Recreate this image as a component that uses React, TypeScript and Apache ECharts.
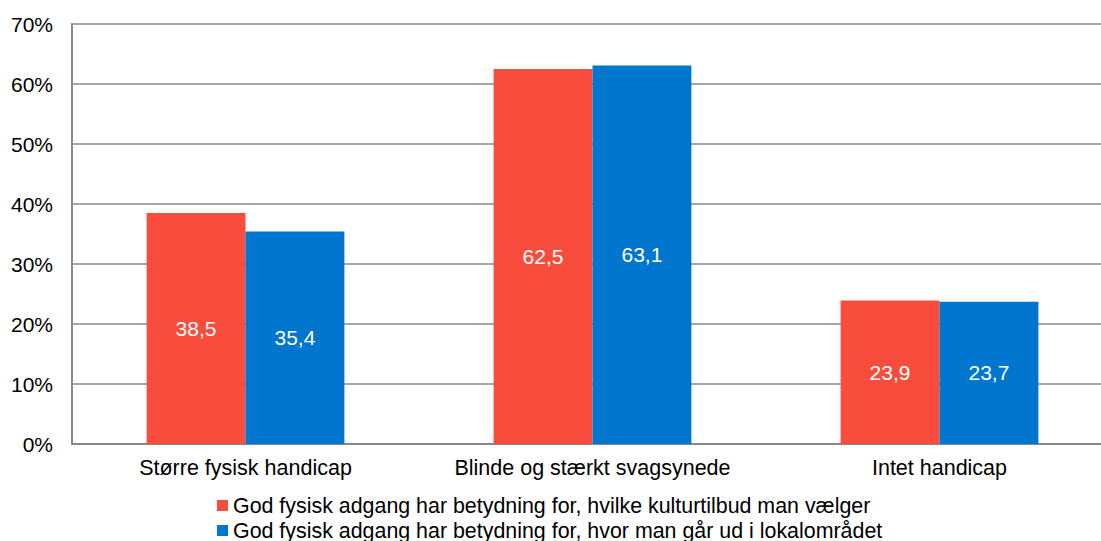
import React, { useEffect, useRef } from "react";
import * as echarts from "echarts";

const categories = ["Større fysisk handicap", "Blinde og stærkt svagsynede", "Intet handicap"];
const seriesNames = [
  "God fysisk adgang har betydning for, hvilke kulturtilbud man vælger",
  "God fysisk adgang har betydning for, hvor man går ud i lokalområdet",
];
const valuesCulture = [38.5, 62.5, 23.9];
const valuesLocal = [35.4, 63.1, 23.7];
const colors = ["#F84D3C", "#0076CE"];

const FONT = "'Liberation Sans', Arial, sans-serif";

export default function App() {
  const ref = useRef<HTMLDivElement>(null);
  useEffect(() => {
    if (!ref.current) return;
    const chart = echarts.init(ref.current, null, { renderer: "svg" });
    const label = {
      show: true,
      position: "inside",
      color: "#ffffff",
      fontSize: 21,
      fontFamily: FONT,
      formatter: (p: any) => String(p.value).replace(".", ","),
    };
    const legendBase = {
      orient: "horizontal",
      left: 217,
      padding: 0,
      itemWidth: 11,
      itemHeight: 11,
      itemGap: 7,
      icon: "rect",
      textStyle: { fontSize: 21.4, color: "#000", fontFamily: FONT },
    };
    chart.setOption({
      animation: false,
      textStyle: { fontFamily: FONT },
      grid: { left: 72, top: 24, width: 1041, height: 420, containLabel: false, outerBoundsMode: "none" },
      legend: [
        { ...legendBase, top: 495, data: [seriesNames[0]] },
        { ...legendBase, top: 520, data: [seriesNames[1]] },
      ],
      xAxis: {
        type: "category",
        data: categories,
        axisLine: { lineStyle: { color: "#888888", width: 2 } },
        axisTick: { show: false },
        axisLabel: { color: "#000", fontSize: 21.5, fontFamily: FONT, margin: 13, interval: 0, hideOverlap: false },
      },
      yAxis: {
        type: "value",
        min: 0,
        max: 70,
        interval: 10,
        axisLine: { show: true, lineStyle: { color: "#888888", width: 2 } },
        axisTick: { show: false },
        axisLabel: { color: "#000", fontSize: 21, fontFamily: FONT, margin: 19, formatter: "{value}%" },
        splitLine: { show: true, lineStyle: { color: "#8a8a8a", width: 1.5 } },
      },
      series: [
        {
          name: seriesNames[0],
          type: "bar",
          data: valuesCulture,
          itemStyle: { color: colors[0] },
          barGap: "0%",
          barCategoryGap: "43%",
          label,
        },
        {
          name: seriesNames[1],
          type: "bar",
          data: valuesLocal,
          itemStyle: { color: colors[1] },
          barGap: "0%",
          barCategoryGap: "43%",
          label,
        },
      ],
    });
    return () => chart.dispose();
  }, []);
  return (
    <div
      ref={ref}
      style={{ position: "fixed", left: 0, top: 0, width: 1101, height: 541, background: "#fff" }}
    />
  );
}
